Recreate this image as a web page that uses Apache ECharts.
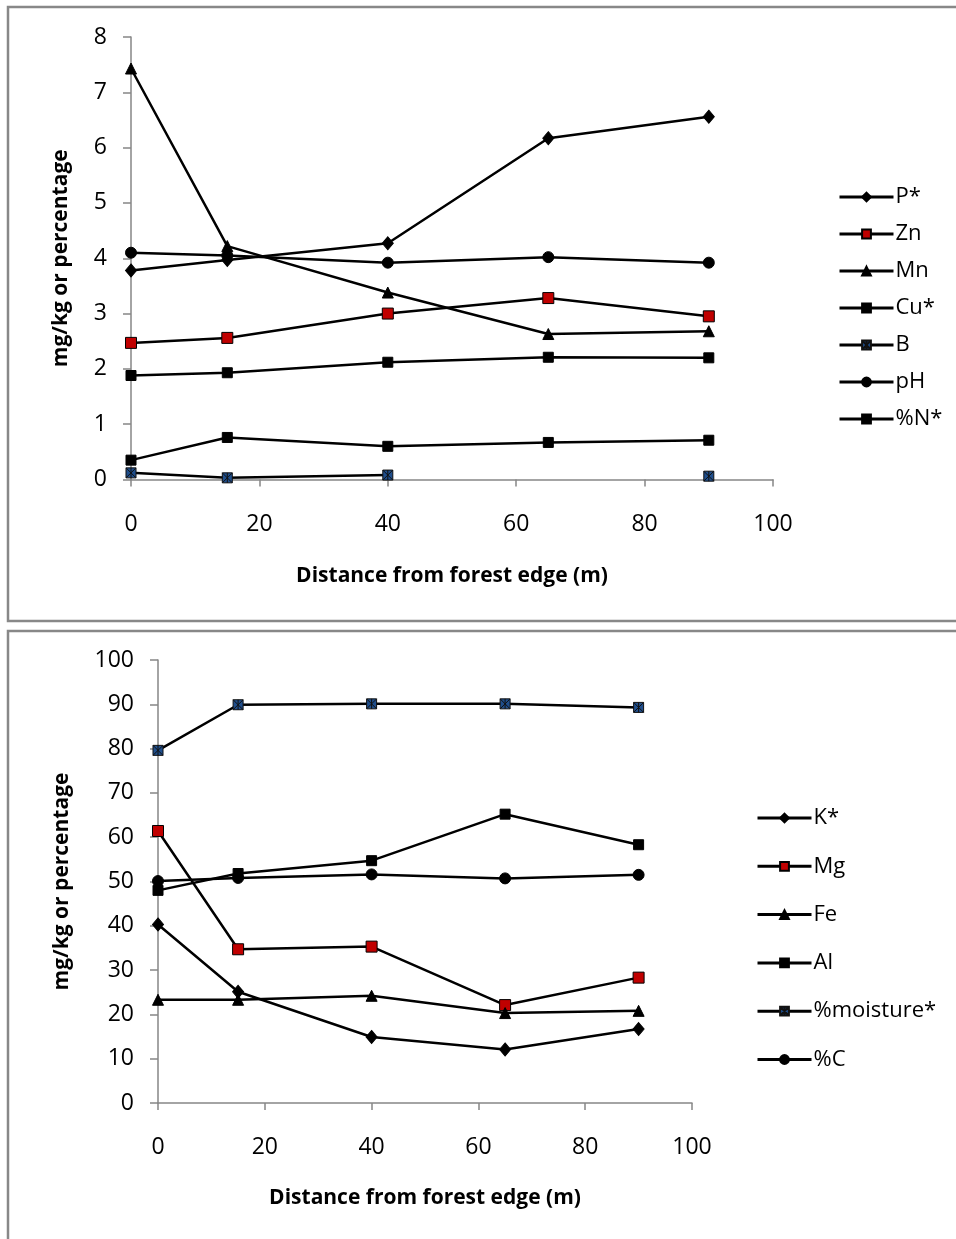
<!DOCTYPE html>
<html>
<head>
<meta charset="utf-8">
<script src="https://cdn.jsdelivr.net/npm/echarts@6/dist/echarts.min.js"></script>
<style>
html,body{margin:0;padding:0;background:#fff;}
#chart{width:956px;height:1239px;}
</style>
</head>
<body>
<div id="chart"></div>
<script>
// ---- data ----
var distances = [0, 15, 40, 65, 90];

// top chart
var topNames = ['P*', 'Zn', 'Mn', 'Cu*', 'B', 'pH', '%N*'];
var pStar = [3.78, 3.97, 4.27, 6.17, 6.56];
var zn = [2.47, 2.56, 3.00, 3.28, 2.95];
var mn = [7.43, 4.22, 3.38, 2.63, 2.68];
var cuStar = [1.88, 1.93, 2.12, 2.21, 2.20];
var boron = [0.12, 0.03, 0.08, null, 0.06];
var pH = [4.10, 4.05, 3.92, 4.02, 3.92];
var nStar = [0.35, 0.76, 0.60, 0.67, 0.71];

// bottom chart
var bottomNames = ['K*', 'Mg', 'Fe', 'Al', '%moisture*', '%C'];
var kStar = [40.3, 25.1, 14.9, 12.1, 16.7];
var mg = [61.4, 34.7, 35.3, 22.1, 28.3];
var fe = [23.3, 23.3, 24.2, 20.3, 20.8];
var al = [48.0, 51.8, 54.7, 65.2, 58.3];
var moisture = [79.6, 89.9, 90.1, 90.1, 89.3];
var carbon = [50.1, 50.8, 51.6, 50.7, 51.5];

var xTicks = [0, 20, 40, 60, 80, 100];
var yTopTicks = [0, 1, 2, 3, 4, 5, 6, 7, 8];
var yBottomTicks = [0, 10, 20, 30, 40, 50, 60, 70, 80, 90, 100];

// ---- styling helpers ----
var FONT = 'Open Sans';
var starPath = 'path://M0,0 L10,0 L10,10 L0,10 Z M0,0 L10,10 M10,0 L0,10 M5,0 L5,10';

var markers = {
  'diamond': {symbol: 'diamond', size: [11, 13], color: '#000', border: '#000'},
  'redsq': {symbol: 'rect', size: 11, color: '#c00000', border: '#000'},
  'tri': {symbol: 'triangle', size: 11, color: '#000', border: '#000'},
  'sq': {symbol: 'rect', size: 10, color: '#000', border: '#000'},
  'star': {symbol: starPath, size: 10, color: '#1f4e8c', border: '#111'},
  'circ': {symbol: 'circle', size: 11, color: '#000', border: '#000'}
};

function pairs(vals) {
  return distances.map(function (d, i) { return [d, vals[i]]; });
}

function mkSeries(name, vals, mk, gi) {
  var m = markers[mk];
  return {
    name: name,
    type: 'line',
    xAxisIndex: gi,
    yAxisIndex: gi,
    data: pairs(vals),
    connectNulls: false,
    symbol: m.symbol,
    symbolSize: m.size,
    showAllSymbol: true,
    lineStyle: {color: '#000', width: 2.5},
    itemStyle: {color: m.color, borderColor: m.border, borderWidth: 1},
    emphasis: {disabled: true},
    animation: false,
    z: 3
  };
}

var series = [
  mkSeries(topNames[0], pStar, 'diamond', 0),
  mkSeries(topNames[1], zn, 'redsq', 0),
  mkSeries(topNames[2], mn, 'tri', 0),
  mkSeries(topNames[3], cuStar, 'sq', 0),
  mkSeries(topNames[4], boron, 'star', 0),
  mkSeries(topNames[5], pH, 'circ', 0),
  mkSeries(topNames[6], nStar, 'sq', 0),
  mkSeries(bottomNames[0], kStar, 'diamond', 1),
  mkSeries(bottomNames[1], mg, 'redsq', 1),
  mkSeries(bottomNames[2], fe, 'tri', 1),
  mkSeries(bottomNames[3], al, 'sq', 1),
  mkSeries(bottomNames[4], moisture, 'star', 1),
  mkSeries(bottomNames[5], carbon, 'circ', 1)
];

var axisGray = '#868686';

function xAxis(gi, gap, labelMargin) {
  return {
    type: 'value', gridIndex: gi, min: xTicks[0], max: xTicks[xTicks.length - 1], interval: 20,
    axisLine: {show: true, onZero: false, lineStyle: {color: axisGray, width: 1.5}},
    axisTick: {show: true, length: 7, lineStyle: {color: axisGray, width: 1.5}},
    splitLine: {show: false},
    axisLabel: {color: '#000', fontFamily: FONT, fontSize: 23, margin: labelMargin},
    name: 'Distance from forest edge (m)', nameLocation: 'middle', nameGap: gap,
    nameTextStyle: {color: '#000', fontFamily: FONT, fontSize: 21, fontWeight: 'bold'}
  };
}
function yAxis(gi, ticks, interval, gap) {
  return {
    type: 'value', gridIndex: gi, min: ticks[0], max: ticks[ticks.length - 1], interval: interval,
    axisLine: {show: true, lineStyle: {color: axisGray, width: 1.5}},
    axisTick: {show: true, length: 8, lineStyle: {color: axisGray, width: 1.5}},
    splitLine: {show: false},
    axisLabel: {color: '#000', fontFamily: FONT, fontSize: 23, margin: 24},
    name: 'mg/kg or percentage', nameLocation: 'middle', nameGap: gap, nameRotate: 90,
    nameTextStyle: {color: '#000', fontFamily: FONT, fontSize: 21, fontWeight: 'bold'}
  };
}

var legendCommon = {
  orient: 'vertical',
  itemWidth: 54,
  itemHeight: 11,
  lineStyle: {width: 3},
  textStyle: {color: '#000', fontFamily: FONT, fontSize: 22, padding: [0, 0, 0, -3]},
  selectedMode: false
};

var option = {
  animation: false,
  backgroundColor: '#fff',
  grid: [
    {left: 131, right: 183, top: 37, bottom: 759.5},
    {left: 158, right: 264, top: 660, bottom: 136}
  ],
  xAxis: [xAxis(0, 86, 33), xAxis(1, 85, 33)],
  yAxis: [yAxis(0, yTopTicks, 1, 59), yAxis(1, yBottomTicks, 10, 85)],
  legend: [
    Object.assign({}, legendCommon, {data: topNames, left: 833, top: 181, itemGap: 15}),
    Object.assign({}, legendCommon, {data: bottomNames, left: 751, top: 802, itemGap: 26.3})
  ],
  graphic: [
    {type: 'rect', shape: {x: 8, y: 7, width: 970, height: 614}, style: {fill: 'none', stroke: '#888', lineWidth: 2.5}, z: 0},
    {type: 'rect', shape: {x: 8, y: 631, width: 970, height: 640}, style: {fill: 'none', stroke: '#888', lineWidth: 2.5}, z: 0}
  ],
  series: series
};

var chart = echarts.init(document.getElementById('chart'), null, {renderer: 'canvas'});
chart.setOption(option);
</script>
</body>
</html>
